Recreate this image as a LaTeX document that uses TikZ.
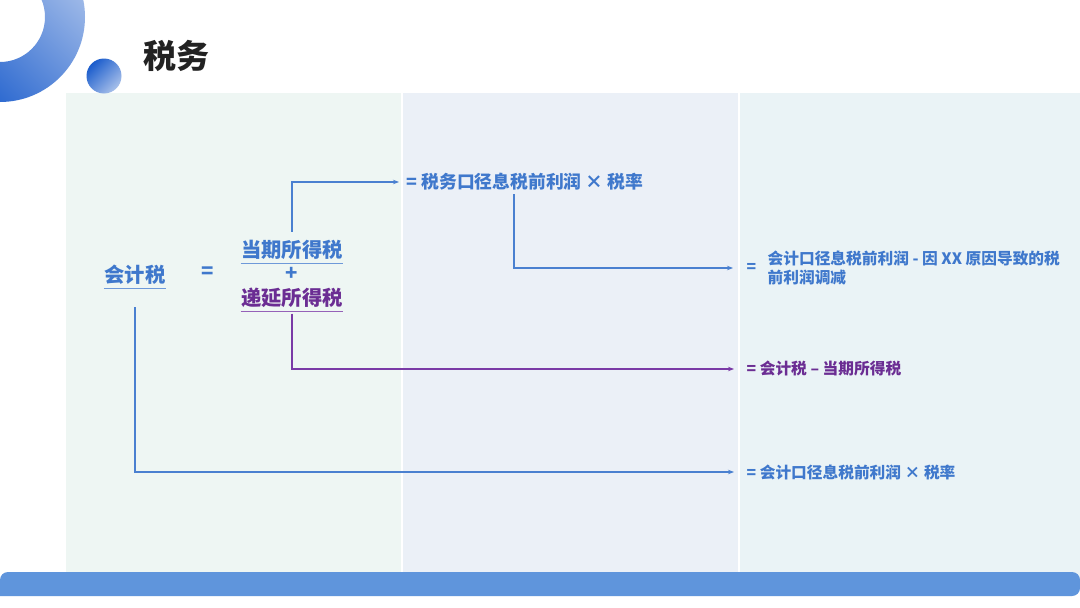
\documentclass[tikz,border=0pt]{standalone}
\usepackage{fontspec}
\setmainfont{Noto Sans CJK SC}
\usetikzlibrary{arrows.meta}
\definecolor{tBlue}{HTML}{3F78CC}
\definecolor{tPurple}{HTML}{6B2D93}
\definecolor{lBlue}{HTML}{4A80D0}
\definecolor{lPurple}{HTML}{7A3AA6}
\definecolor{tGray}{HTML}{222222}
\definecolor{pMint}{HTML}{EEF6F3}
\definecolor{pBlue}{HTML}{EBF0F7}
\definecolor{pCyan}{HTML}{EAF3F6}
\definecolor{barBlue}{HTML}{5F95DC}
\definecolor{ringDark}{HTML}{1A5CCC}
\definecolor{ringLight}{HTML}{A8C0EA}
\tikzset{
  every picture/.style={line width=1.3pt},
  sArr/.style={draw=lBlue, -{Stealth[length=6pt,width=4.5pt]}},
  sArrP/.style={sArr, draw=lPurple},
  sMain/.style={font=\fontsize{20.3}{24}\selectfont\bfseries, text=tBlue, inner sep=0pt},
  sRes/.style={font=\fontsize{15.7}{19}\selectfont\bfseries, text=tBlue,
               inner sep=0pt, anchor=west, align=left},
  sUl/.style={draw=lBlue!80, line width=1pt},
}

\begin{document}
\begin{tikzpicture}[x=1pt,y=-1pt]
\useasboundingbox[fill=white] (0,0) rectangle (1080,608);
% panels
\fill[pMint] (66,93) rectangle (401,580);
\fill[pBlue] (403,93) rectangle (738,580);
\fill[pCyan] (740,93) rectangle (1080,580);
\fill[barBlue, rounded corners=8pt] (0,596) -- (0,572) -- (1080,572) -- (1080,596) [sharp corners] -- cycle;
% decoration
\shade[top color=ringLight, bottom color=ringDark, shading angle=-45, even odd rule]
  (0,17) circle (85) (0,17) circle (45);
\shade[top color=ringDark, bottom color=ringLight, shading angle=45]
  (104,76) circle (17.5);
\node[font=\fontsize{33}{38}\selectfont\bfseries, text=tGray, anchor=west, inner sep=0pt]
  (title) at (143,56) {税务};
% left side
\node[sMain] (acc) at (135,275) {会计税};
\node[sMain] (eq) at (208,273) {=};
\node[sMain] (cur) at (292,250) {当期所得税};
\node[sMain] (plus) at (292,274) {+};
\node[sMain, text=tPurple] (dfr) at (292,298) {递延所得税};
\draw[sUl] ([yshift=-3pt]acc.south west) -- ([yshift=-3pt]acc.south east);
\draw[sUl] ([yshift=-3pt]cur.south west) -- ([yshift=-3pt]cur.south east);
\draw[sUl, draw=lPurple!80] ([yshift=-3pt]dfr.south west) -- ([yshift=-3pt]dfr.south east);
% results
\node[sRes, font=\fontsize{17.8}{21}\selectfont\bfseries] (r1) at (406,182) {= 税务口径息税前利润 × 税率};
\node[sRes] (r2eq) at (746,268) {=};
\node[sRes] (r2) at (767,268) {会计口径息税前利润 - 因 XX 原因导致的税\\前利润调减};
\node[sRes, text=tPurple] (r3) at (746,369) {= 会计税 – 当期所得税};
\node[sRes] (r4) at (746,472) {= 会计口径息税前利润 × 税率};
% connectors
\draw[sArr] ([yshift=8pt]cur.north) |- ([xshift=-7pt]r1.west);
\draw[sArr] ([xshift=108pt,yshift=-3pt]r1.south west) |- ([xshift=-13pt]r2eq.west);
\draw[sArrP] ([yshift=-5pt]dfr.south) |- ([xshift=-12pt]r3.west);
\draw[sArr] ([yshift=-22pt]acc.south) |- ([xshift=-12pt]r4.west);
\end{tikzpicture}
\end{document}
